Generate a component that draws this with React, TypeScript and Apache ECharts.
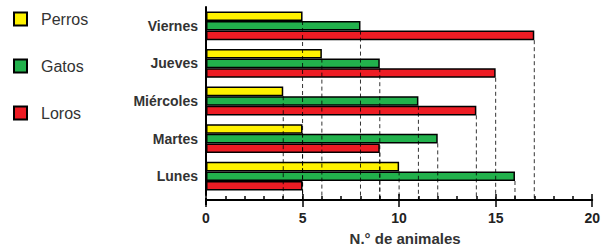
import React, { useEffect, useRef } from 'react';
import * as echarts from 'echarts';

const days = ['Lunes', 'Martes', 'Miércoles', 'Jueves', 'Viernes'];
const perros = [10, 5, 4, 6, 5];
const gatos = [16, 12, 11, 9, 8];
const loros = [5, 9, 14, 15, 17];
const seriesNames = ['Perros', 'Gatos', 'Loros'];
const xMin = 0;
const xMax = 20;
const xStep = 5;
const axisTitle = 'N.° de animales';

const colors = ['#FFF200', '#22B14C', '#ED1C24'];

export default function App() {
  const ref = useRef<HTMLDivElement>(null);
  useEffect(() => {
    const chart = echarts.init(ref.current!, null, { renderer: 'svg' });
    const BAR_W = 9.6;
    const AXIS_OFFSET = 5;
    const font = '"Liberation Sans", Arial, sans-serif';
    const values = [perros, gatos, loros];
    const dashData: number[][] = [];
    values.forEach((arr, s) => arr.forEach((v, i) => dashData.push([v, i, s])));

    const bars = seriesNames.map((name, s) => ({
      name,
      type: 'bar',
      data: values[s],
      barWidth: BAR_W,
      barGap: '0%',
      itemStyle: { color: colors[s], borderColor: '#000', borderWidth: 1.5 },
      z: 2,
    }));

    chart.setOption({
      animation: false,
      legend: {
        orient: 'vertical',
        left: 13,
        top: 11,
        padding: 0,
        icon: 'rect',
        itemWidth: 13,
        itemHeight: 13,
        itemGap: 31,
        selectedMode: false,
        data: seriesNames,
        itemStyle: { borderColor: '#000', borderWidth: 2 },
        textStyle: {
          fontFamily: font,
          fontSize: 16,
          color: '#333',
          padding: [0, 0, 0, 9],
        },
      },
      grid: { left: 206, right: 10, top: 7, height: 192 },
      xAxis: [
        {
          type: 'value',
          min: xMin,
          max: xMax,
          interval: xStep,
          position: 'bottom',
          offset: AXIS_OFFSET,
          name: axisTitle,
          nameLocation: 'middle',
          nameGap: 31,
          nameTextStyle: {
            fontFamily: font,
            fontSize: 15,
            fontWeight: 'bold',
            color: '#333',
            padding: [0, 0, 0, 12],
          },
          axisLine: { show: true, lineStyle: { color: '#000', width: 2 } },
          axisTick: { show: true, length: 7, lineStyle: { color: '#000', width: 1.5 } },
          axisLabel: {
            fontFamily: font,
            fontSize: 14,
            fontWeight: 'bold',
            color: '#222',
            margin: 11,
          },
          splitLine: { show: false },
        },
        {
          type: 'value',
          min: xMin,
          max: xMax,
          interval: xStep,
          position: 'bottom',
          offset: AXIS_OFFSET,
          axisLine: { show: false },
          axisTick: { show: true, inside: true, length: 6, lineStyle: { color: '#000', width: 1.5 } },
          minorTick: { show: true, splitNumber: 5, length: 4, lineStyle: { color: '#000', width: 1.5 } },
          axisLabel: { show: false },
          splitLine: { show: false },
        },
      ],
      yAxis: {
        type: 'category',
        data: days,
        axisLine: { show: true, lineStyle: { color: '#000', width: 2 } },
        axisTick: { show: false },
        axisLabel: {
          fontFamily: font,
          fontSize: 14,
          fontWeight: 'bold',
          color: '#333',
          margin: 8,
        },
      },
      graphic: [
        {
          type: 'line',
          shape: { x1: 206, y1: 198, x2: 206, y2: 205 },
          style: { stroke: '#000', lineWidth: 2 },
        },
      ],
      series: [
        ...bars,
        {
          type: 'custom',
          name: 'guides',
          data: dashData,
          encode: { x: 0, y: 1 },
          z: 5,
          silent: true,
          renderItem: (params: any, api: any) => {
            const v = api.value(0);
            const c = api.value(1);
            const s = api.value(2);
            const p = api.coord([v, c]);
            const cs = params.coordSys;
            const yTop = p[1] - 1.5 * BAR_W + (s + 1) * BAR_W;
            const yBot = cs.y + cs.height + AXIS_OFFSET;
            return {
              type: 'line',
              shape: { x1: p[0], y1: yTop, x2: p[0], y2: yBot },
              style: { stroke: 'rgba(0,0,0,0.8)', lineWidth: 1, lineDash: [4, 3] },
            };
          },
        },
      ],
    });
    return () => chart.dispose();
  }, []);
  return <div ref={ref} style={{ width: 603, height: 251, position: 'absolute', left: 0, top: 0 }} />;
}
